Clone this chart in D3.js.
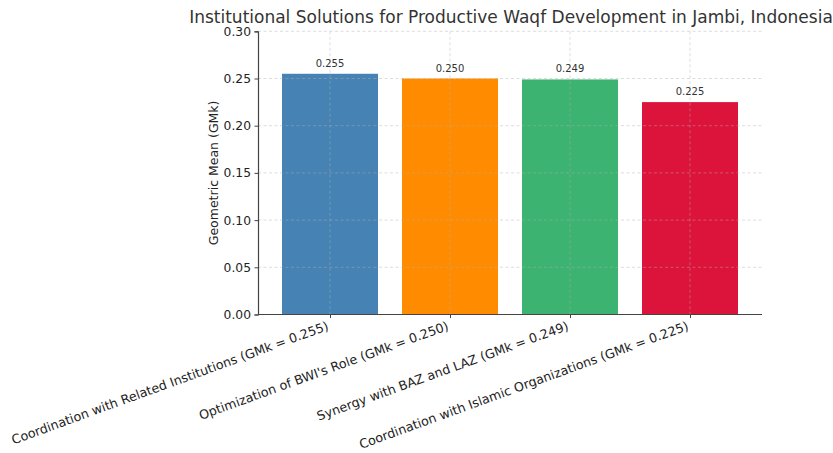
<!DOCTYPE html>
<html><head><meta charset="utf-8">
<script src="https://cdn.jsdelivr.net/npm/d3@7"></script>
<style>body{margin:0;background:#fff;} text{font-family:"DejaVu Sans",sans-serif;}</style>
</head><body><svg id="c" width="833" height="453"></svg>
<script>
const categories = [
  "Coordination with Related Institutions (GMk = 0.255)",
  "Optimization of BWI's Role (GMk = 0.250)",
  "Synergy with BAZ and LAZ (GMk = 0.249)",
  "Coordination with Islamic Organizations (GMk = 0.225)"
];
const values = [0.255, 0.250, 0.249, 0.225];
const valueLabels = ["0.255", "0.250", "0.249", "0.225"];
const colors = ["#4682B4", "#FF8C00", "#3CB371", "#DC143C"];
const yTicks = [0, 0.05, 0.10, 0.15, 0.20, 0.25, 0.30];
const title = "Institutional Solutions for Productive Waqf Development in Jambi, Indonesia";
const yTitle = "Geometric Mean (GMk)";

const svg = d3.select("#c");
const L = 258, R = 762, T = 31.3, B = 314.5;
const x = d3.scaleLinear().domain([-0.6, 3.6]).range([L, R]);
const y = d3.scaleLinear().domain([0, 0.30]).range([B, T]);
const bw = x(0.4) - x(0);

// bars
svg.append("g").selectAll("rect").data(values).join("rect")
  .attr("x", (d,i) => x(i) - bw)
  .attr("width", 2*bw)
  .attr("y", d => y(d))
  .attr("height", d => B - y(d))
  .attr("fill", (d,i) => colors[i]);

// grid
const grid = svg.append("g").attr("stroke", "#b0b0b0").attr("stroke-opacity", 0.55)
  .attr("stroke-dasharray", "3,2.5").attr("stroke-width", 0.8);
yTicks.forEach(t => grid.append("line").attr("x1", L).attr("x2", R).attr("y1", y(t)).attr("y2", y(t)));
categories.forEach((c,i) => grid.append("line").attr("x1", x(i)).attr("x2", x(i)).attr("y1", T).attr("y2", B));

// value labels
svg.append("g").selectAll("text").data(values).join("text")
  .attr("x", (d,i) => x(i))
  .attr("y", d => y(d) - 7)
  .attr("text-anchor", "middle")
  .attr("font-size", 10).attr("fill", "#333")
  .text((d,i) => valueLabels[i]);

// y axis
const ya = svg.append("g").attr("transform", `translate(${L},0)`)
  .call(d3.axisLeft(y).tickValues(yTicks).tickFormat(d3.format(".2f")).tickSize(3.5).tickPadding(3.5));
ya.select(".domain").attr("stroke", "#444").attr("stroke-width", 1.2);
ya.selectAll(".tick line").attr("stroke", "#444");
ya.selectAll(".tick text").attr("font-size", 12.3).attr("fill", "#222").attr("font-family", "DejaVu Sans");

// x axis
const xa = svg.append("g").attr("transform", `translate(0,${B})`)
  .call(d3.axisBottom(x).tickValues([0,1,2,3]).tickFormat(i => categories[i]).tickSize(3.5).tickSizeOuter(0));
xa.select(".domain").attr("stroke", "#444").attr("stroke-width", 1.2).attr("d", `M${L},0H${R}`);
xa.selectAll(".tick line").attr("stroke", "#444");
xa.selectAll(".tick text")
  .attr("font-size", 12.7).attr("fill", "#222").attr("font-family", "DejaVu Sans")
  .attr("text-anchor", "end").attr("dy", null).attr("y", 0)
  .attr("transform", "translate(-1,15) rotate(-20)");

// title
svg.append("text").attr("x", (L+R)/2 + 1).attr("y", 23).attr("text-anchor", "middle")
  .attr("font-size", 17).attr("fill", "#333").text(title);

// y title
svg.append("text").attr("transform", `translate(218,${(T+B)/2}) rotate(-90)`)
  .attr("text-anchor", "middle").attr("font-size", 12.5).attr("fill", "#222").text(yTitle);
</script></body></html>
